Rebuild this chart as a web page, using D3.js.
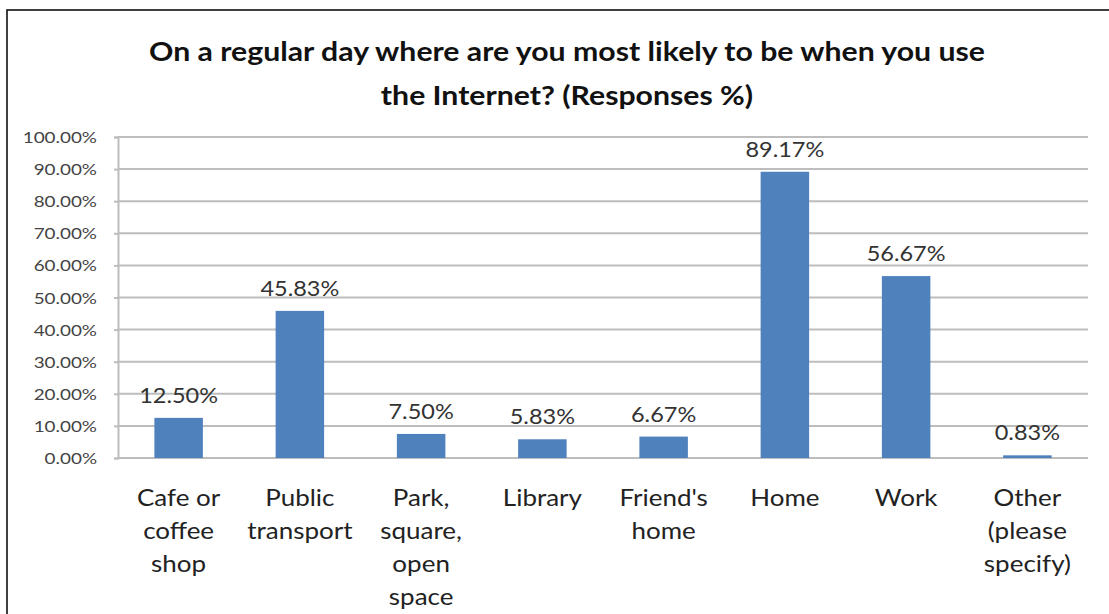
<!DOCTYPE html>
<html>
<head>
<meta charset="utf-8">
<script src="https://cdn.jsdelivr.net/npm/d3@7"></script>
<style>
  html, body { margin: 0; padding: 0; background: #fff; }
  svg { display: block; }
  text { font-family: Lato, "Open Sans", sans-serif; }
</style>
</head>
<body>
<svg id="chart" width="1109" height="614"></svg>
<script>
const categories = [
  ["Cafe or", "coffee", "shop"],
  ["Public", "transport"],
  ["Park,", "square,", "open", "space"],
  ["Library"],
  ["Friend's", "home"],
  ["Home"],
  ["Work"],
  ["Other", "(please", "specify)"]
];
const values = [12.50, 45.83, 7.50, 5.83, 6.67, 89.17, 56.67, 0.83];
const yTicks = [0, 10, 20, 30, 40, 50, 60, 70, 80, 90, 100];
const titleLines = [
  "On a regular day where are you most likely to be when you use",
  "the Internet? (Responses %)"
];

const svg = d3.select("#chart");
const W = 1109, H = 614;
const plot = { left: 118, right: 1088, top: 137, bottom: 458 };

// frame
svg.append("rect")
  .attr("x", 7).attr("y", 10)
  .attr("width", W + 20).attr("height", H + 20)
  .attr("fill", "#fff").attr("stroke", "#111").attr("stroke-width", 1.6);

const idx = d3.range(values.length);
const x = d3.scaleBand().domain(idx).range([plot.left, plot.right])
  .paddingInner(0.6).paddingOuter(0.3);
const y = d3.scaleLinear().domain([0, 100]).range([plot.bottom, plot.top]);

// gridlines
svg.append("g").selectAll("line").data(yTicks).join("line")
  .attr("x1", plot.left).attr("x2", plot.right)
  .attr("y1", d => y(d)).attr("y2", d => y(d))
  .attr("stroke", "#bdbdbd").attr("stroke-width", 2);

// y axis
const yAxis = d3.axisLeft(y).tickValues(yTicks)
  .tickFormat(d => d.toFixed(2) + "%").tickSize(4).tickPadding(0);
const gy = svg.append("g").attr("transform", `translate(${plot.left},0)`).call(yAxis);
gy.attr("font-family", null).attr("font-size", null);
gy.select(".domain").attr("stroke", "#bdbdbd").attr("stroke-width", 2);
gy.selectAll(".tick line").attr("stroke", "#bdbdbd").attr("stroke-width", 2);
gy.selectAll(".tick text")
  .attr("x", null).attr("dy", null)
  .attr("transform", "translate(-21,5.5) scale(1.18,1)")
  .attr("fill", "#444").style("font-size", "16px")
  .style("font-family", "Lato, sans-serif");

// bars
svg.append("g").selectAll("rect").data(values).join("rect")
  .attr("x", (d, i) => x(i)).attr("width", x.bandwidth())
  .attr("y", d => y(d)).attr("height", d => y(0) - y(d))
  .attr("fill", "#4f81bd");

// data labels
svg.append("g").selectAll("text").data(values).join("text")
  .attr("transform", (d, i) => `translate(${x(i) + x.bandwidth() / 2},${y(d) - 15}) scale(1.12,1)`)
  .attr("text-anchor", "middle")
  .style("font-size", "21px").attr("fill", "#333")
  .text(d => d.toFixed(2) + "%");

// category labels
const cat = svg.append("g").selectAll("g").data(categories).join("g")
  .attr("transform", (d, i) => `translate(${x(i) + x.bandwidth() / 2},0)`);
cat.each(function(lines) {
  d3.select(this).selectAll("text").data(lines).join("text")
    .attr("transform", (d, j) => `translate(0,${506 + j * 33}) scale(1.13,1)`)
    .attr("text-anchor", "middle")
    .style("font-size", "23px").attr("fill", "#222")
    .text(d => d);
});

// title
svg.append("g").selectAll("text").data(titleLines).join("text")
  .attr("transform", (d, i) => `translate(567,${61 + i * 44}) scale(1.12,1)`)
  .attr("text-anchor", "middle")
  .style("font-size", "27px").attr("font-weight", "bold").attr("fill", "#111")
  .text(d => d);
</script>
</body>
</html>
